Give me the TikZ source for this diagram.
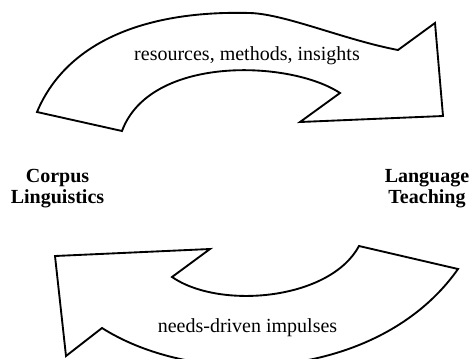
\documentclass[tikz,border=0pt]{standalone}
\usepackage{fontspec}
\setmainfont{Liberation Serif}
\usetikzlibrary{positioning}

\begin{document}
\begin{tikzpicture}[x=0.75pt, y=-0.75pt, line width=1.4pt, line join=miter,
	every node/.style={inner sep=0pt, font=\fontsize{15}{15.5}\selectfont},
	side/.style={align=center, font=\fontsize{15}{15.5}\selectfont\bfseries},
	flow/.style={draw=black, fill=white}]
	\useasboundingbox (0,0) rectangle (470,358);
	\clip (0,0) rectangle (470,358);
	% upper arrow
	\draw[flow] (37,112) .. controls (65,45) and (140,10) .. (250,13)
		.. controls (285,14) and (345,40) .. (398,50) -- (435,23) -- (443,116) -- (300,122) -- (340,93)
		.. controls (290,60) and (150,55) .. (122,131) -- cycle;
	% lower arrow
	\draw[flow] (458,269) .. controls (380,380) and (200,390) .. (102,328) -- (66,356) -- (55,256) -- (210,249) -- (172,277)
		.. controls (220,310) and (330,300) .. (359,246) -- cycle;
	\node[anchor=base] (forward) at (247,60) {resources, methods, insights};
	\node[anchor=base] (backward) at (247.5,332) {needs-driven impulses};
	\node[side] (corpus) at (57.5,188.4) {Corpus\\Linguistics};
	\node[side] (teaching) at (427,188.4) {Language\\Teaching};
\end{tikzpicture}
\end{document}
